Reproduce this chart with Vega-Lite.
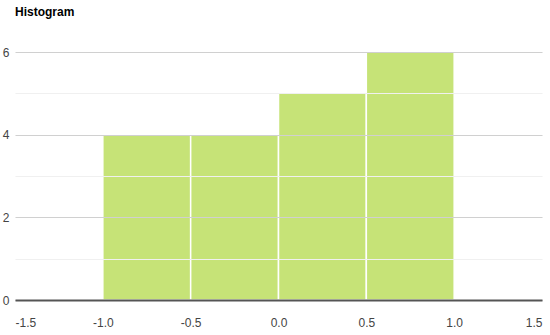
{
  "$schema": "https://vega.github.io/schema/vega-lite/v6.json",
  "autosize": "none",
  "width": 527,
  "height": 248,
  "padding": {"left": 15, "top": 52, "right": 8, "bottom": 35},
  "background": "white",
  "title": {
    "text": "Histogram",
    "anchor": "start",
    "frame": "group",
    "font": "Liberation Sans Narrow, Liberation Sans, sans-serif",
    "fontSize": 12,
    "fontWeight": "bold",
    "color": "#000",
    "offset": 27
  },
  "config": {"view": {"stroke": null}},
  "data": {
    "values": [
      {"bin_start": -1.0, "bin_end": -0.5, "count": 4},
      {"bin_start": -0.5, "bin_end": 0.0, "count": 4},
      {"bin_start": 0.0, "bin_end": 0.5, "count": 5},
      {"bin_start": 0.5, "bin_end": 1.0, "count": 6}
    ]
  },
  "mark": {"type": "bar", "color": "#c6e377", "stroke": "white", "strokeWidth": 1.5},
  "encoding": {
    "x": {
      "field": "bin_start",
      "type": "quantitative",
      "scale": {"domain": [-1.5, 1.5], "nice": false, "zero": false},
      "axis": {
        "title": null,
        "values": [-1.5, -1.0, -0.5, 0.0, 0.5, 1.0, 1.5],
        "format": ".1f",
        "labelExpr": "replace(datum.label, '\u2212', '-')",
        "grid": false,
        "ticks": false,
        "domainColor": "#555",
        "domainWidth": 2,
        "labelPadding": 17,
        "labelFont": "Liberation Sans Narrow, Liberation Sans, sans-serif",
        "labelFontSize": 12,
        "labelColor": "#444",
        "zindex": 1
      }
    },
    "x2": {"field": "bin_end"},
    "y": {
      "field": "count",
      "type": "quantitative",
      "scale": {"domain": [0, 6], "nice": false},
      "axis": {
        "title": null,
        "values": [0, 1, 2, 3, 4, 5, 6],
        "labelExpr": "datum.value % 2 == 0 ? datum.label : ''",
        "domain": false,
        "ticks": false,
        "grid": true,
        "gridColor": {"condition": {"test": "datum.value % 2 == 0", "value": "#d0d0d0"}, "value": "#f0f0f0"},
        "gridWidth": 1.2,
        "labelPadding": 6,
        "labelFont": "Liberation Sans Narrow, Liberation Sans, sans-serif",
        "labelFontSize": 12,
        "labelColor": "#444",
        "zindex": 1
      }
    },
    "y2": {"datum": 0}
  }
}
